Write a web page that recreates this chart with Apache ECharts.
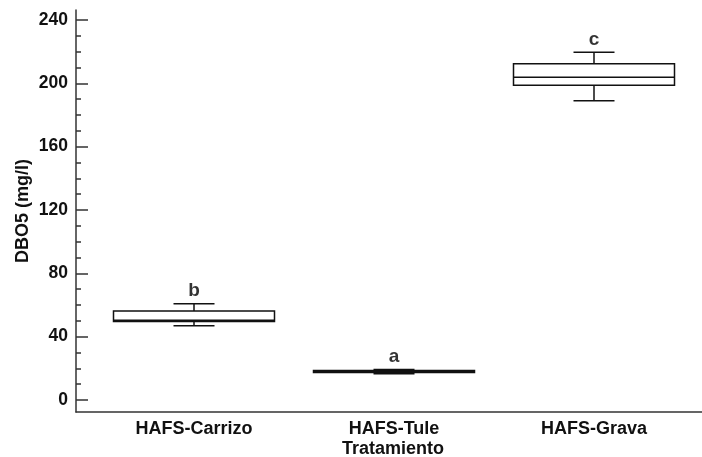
<!DOCTYPE html>
<html>
<head>
<meta charset="utf-8">
<script src="https://cdn.jsdelivr.net/npm/echarts@6/dist/echarts.min.js"></script>
<style>
html,body{margin:0;padding:0;background:#fff;}
#chart{width:702px;height:457px;}
</style>
</head>
<body>
<div id="chart"></div>
<script>
var categories = ['HAFS-Carrizo', 'HAFS-Tule', 'HAFS-Grava'];
var positions = [1, 2, 3];
var mins = [46.9, 16.6, 189.0];
var q1s = [49.5, 17.4, 198.8];
var medians = [50.3, 18.0, 203.8];
var q3s = [56.2, 18.6, 212.4];
var maxs = [60.8, 19.3, 219.6];
var letters = ['b', 'a', 'c'];
var yMajorTicks = [0, 40, 80, 120, 160, 200, 240];
var yMinorTicks = [10, 20, 30, 50, 60, 70, 90, 100, 110, 130, 140, 150, 170, 180, 190, 210, 220, 230];

var FONT = '"Liberation Sans", Arial, sans-serif';
var boxData = positions.map(function (p, i) {
  return [p, mins[i], q1s[i], medians[i], q3s[i], maxs[i]];
});
var letterData = positions.map(function (p, i) {
  return { value: [p, maxs[i]], label: { formatter: letters[i] } };
});

var BOX_W = 0.805, CAP_W = 0.205;
var stroke = { stroke: '#111', lineWidth: 1.5, fill: 'none' };

function renderBox(params, api) {
  var x = api.value(0);
  var vMin = api.value(1), vQ1 = api.value(2), vMed = api.value(3), vQ3 = api.value(4), vMax = api.value(5);
  var pL = api.coord([x - BOX_W / 2, vQ3]);
  var pR = api.coord([x + BOX_W / 2, vQ1]);
  var cL = api.coord([x - CAP_W / 2, vMin])[0];
  var cR = api.coord([x + CAP_W / 2, vMin])[0];
  var xc = api.coord([x, 0])[0];
  var yMin = api.coord([x, vMin])[1];
  var yMax = api.coord([x, vMax])[1];
  var yQ1 = api.coord([x, vQ1])[1];
  var yQ3 = api.coord([x, vQ3])[1];
  var yMed = api.coord([x, vMed])[1];
  return {
    type: 'group',
    children: [
      { type: 'line', shape: { x1: xc, y1: yQ3, x2: xc, y2: yMax }, style: stroke },
      { type: 'line', shape: { x1: xc, y1: yQ1, x2: xc, y2: yMin }, style: stroke },
      { type: 'line', shape: { x1: cL, y1: yMax, x2: cR, y2: yMax }, style: stroke },
      { type: 'line', shape: { x1: cL, y1: yMin, x2: cR, y2: yMin }, style: stroke },
      { type: 'rect', shape: { x: pL[0], y: yQ3, width: pR[0] - pL[0], height: yQ1 - yQ3 },
        style: { stroke: '#111', lineWidth: 1.5, fill: '#fff' } },
      { type: 'line', shape: { x1: pL[0], y1: yMed, x2: pR[0], y2: yMed }, style: stroke }
    ]
  };
}

var chart = echarts.init(document.getElementById('chart'), null, { renderer: 'canvas' });
chart.setOption({
  animation: false,
  backgroundColor: '#fff',
  grid: { left: 76, right: 0, top: 10, bottom: 45, containLabel: false, outerBoundsMode: 'none' },
  xAxis: {
    type: 'value',
    min: 0.41,
    max: 3.54,
    name: 'Tratamiento',
    nameLocation: 'middle',
    nameGap: 28,
    nameMoveOverlap: false,
    nameTextStyle: { fontFamily: FONT, fontWeight: 'bold', fontSize: 18, color: '#111', padding: [0, 0, 0, 8] },
    axisLine: { show: true, onZero: false, lineStyle: { color: '#333', width: 1.5 } },
    axisTick: { show: false },
    splitLine: { show: false },
    axisLabel: {
      customValues: positions,
      formatter: function (v) { return categories[Math.round(v) - 1]; },
      fontFamily: FONT, fontWeight: 'bold', fontSize: 18, color: '#111', margin: 8
    }
  },
  yAxis: [{
    type: 'value',
    min: -7.58,
    max: 246.3,
    name: 'DBO5 (mg/l)',
    nameLocation: 'middle',
    nameGap: 44,
    nameMoveOverlap: false,
    nameTextStyle: { fontFamily: FONT, fontWeight: 'bold', fontSize: 18, color: '#111' },
    axisLine: { show: true, onZero: false, lineStyle: { color: '#333', width: 1.5 } },
    axisTick: { show: true, inside: true, length: 12, customValues: yMajorTicks, lineStyle: { color: '#333', width: 1.5 } },
    splitLine: { show: false },
    axisLabel: {
      customValues: yMajorTicks,
      fontFamily: FONT, fontWeight: 'bold', fontSize: 17.5, color: '#111', margin: 8
    }
  }, {
    type: 'value',
    position: 'left',
    min: -7.58,
    max: 246.3,
    axisLine: { show: false },
    axisTick: { show: true, inside: true, length: 5, customValues: yMinorTicks, lineStyle: { color: '#333', width: 1.5 } },
    axisLabel: { show: false },
    splitLine: { show: false }
  }],
  series: [{
    type: 'custom',
    renderItem: renderBox,
    data: boxData,
    encode: { x: 0, y: [1, 2, 3, 4, 5] },
    z: 3
  }, {
    type: 'scatter',
    data: letterData,
    symbolSize: 0,
    label: {
      show: true,
      position: 'top',
      distance: 3,
      fontFamily: FONT, fontWeight: 'bold', fontSize: 19, color: '#000'
    },
    z: 4
  }]
});
</script>
</body>
</html>
